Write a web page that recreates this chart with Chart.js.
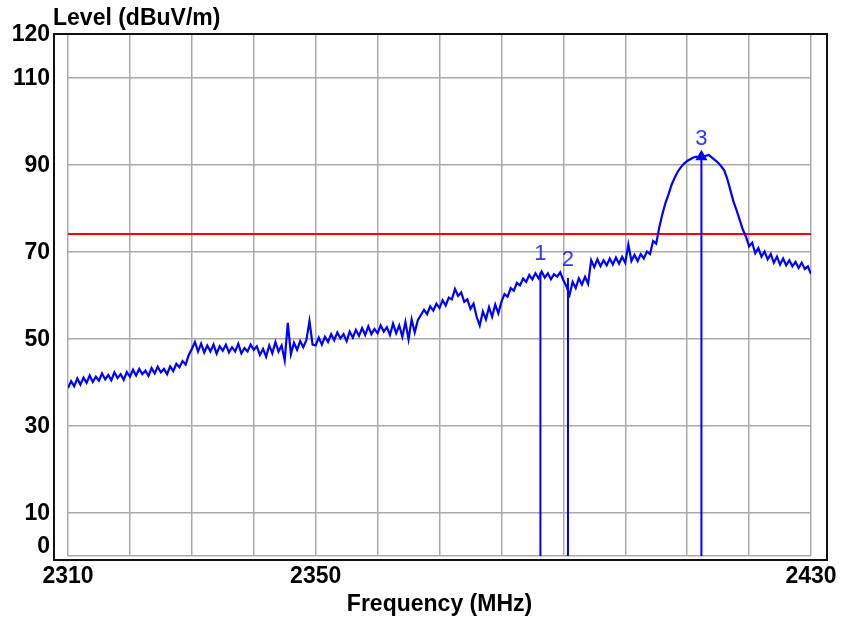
<!DOCTYPE html>
<html>
<head>
<meta charset="utf-8">
<script src="https://cdn.jsdelivr.net/npm/chart.js@4.4.1/dist/chart.umd.min.js"></script>
<style>
  html, body { margin: 0; padding: 0; background: #fff; }
  #wrap { width: 845px; height: 622px; position: relative; }
</style>
</head>
<body>
<div id="wrap"><canvas id="myChart"></canvas></div>
<script>
// sweep: 2310..2430 MHz, one reading every 0.5 MHz (levels)
const freqStart = 2310;
const freqStep = 0.5;
const levels = [
  // 2310
  38.6, 40.2, 39.0, 40.8, 39.4, 41.0, 39.8, 41.5, 40.0, 41.2, 40.3, 42.0, 40.6, 41.6, 40.4, 42.2, 40.9, 41.8, 40.5, 42.3,
  // 2320
  41.2, 42.8, 41.5, 43.0, 41.8, 42.6, 41.4, 43.2, 42.0, 43.5, 42.2, 43.0, 41.8, 43.6, 42.5, 44.2, 43.4, 44.8, 44.0, 46.2,
  // 2330
  47.6, 49.2, 47.0, 48.8, 46.8, 48.4, 47.0, 48.6, 46.5, 48.2, 47.2, 48.6, 46.8, 48.0, 47.0, 48.8, 46.6, 47.8, 47.0, 48.6,
  // 2340
  47.4, 48.2, 46.2, 47.6, 45.8, 48.4, 46.6, 49.2, 47.0, 48.4, 45.0, 53.6, 46.4, 49.0, 47.4, 49.4, 48.0, 49.6, 54.0, 48.6,
  // 2350
  48.4, 50.2, 48.6, 50.4, 49.2, 51.0, 49.6, 51.4, 50.0, 51.0, 49.4, 51.6, 50.2, 52.0, 50.6, 52.4, 50.8, 52.8, 51.0, 52.2,
  // 2360
  51.2, 53.0, 51.6, 52.6, 50.8, 53.4, 51.2, 53.0, 50.4, 53.8, 49.8, 54.4, 51.4, 54.2, 55.4, 56.6, 55.6, 57.4, 56.4, 58.0,
  // 2370
  57.0, 58.8, 57.6, 59.4, 59.0, 61.4, 59.8, 60.6, 58.4, 59.0, 56.8, 58.0, 55.0, 53.0, 56.2, 54.4, 57.2, 55.0, 57.8, 55.8,
  // 2380
  58.4, 60.2, 59.6, 61.6, 61.0, 62.8, 62.2, 63.8, 63.0, 64.6, 63.6, 65.0, 63.8, 65.4, 64.0, 65.0, 63.6, 64.8, 64.2, 65.2,
  // 2390
  63.4, 62.0, 60.0, 63.0, 61.6, 63.8, 62.4, 64.2, 62.6, 68.0, 66.4, 68.2, 66.6, 68.0, 66.8, 68.4, 67.0, 68.6, 67.2, 68.8,
  // 2400
  67.4, 71.6, 67.8, 69.2, 67.8, 69.4, 68.4, 70.0, 69.4, 72.4, 71.8, 75.6, 78.6, 81.2, 83.2, 85.4, 87.0, 88.4, 89.4, 90.2,
  // 2410
  90.8, 91.2, 91.6, 91.8, 91.6, 91.8, 92.0, 92.2, 91.6, 91.0, 90.4, 89.6, 88.6, 86.6, 84.0, 81.4, 79.4, 77.2, 75.0, 73.4,
  // 2420
  71.2, 72.0, 69.6, 70.8, 68.8, 70.0, 68.2, 69.4, 67.4, 68.8, 67.0, 68.4, 66.8, 68.0, 66.6, 67.6, 66.2, 67.4, 66.0, 66.6,
  // 2430
  64.8
];

const limitLevel = 74;

const markerLabels = ['1', '2', '3'];
const markerFreqs = [2386.3, 2390.75, 2412.3];
const markerLevels = [65.2, 63.9, 91.8];

const xGridValues = [2310, 2320, 2330, 2340, 2350, 2360, 2370, 2380, 2390, 2400, 2410, 2420, 2430];
const xLabelValues = [2310, 2350, 2430];
const yTickValues = [0, 10, 30, 50, 70, 90, 110, 120];

const xTitle = 'Frequency (MHz)';
const yTitle = 'Level (dBuV/m)';

const fontFamily = '"Liberation Sans", Arial, sans-serif';

const trace = levels.map((v, i) => ({ x: freqStart + i * freqStep, y: v }));

const markerSets = markerFreqs.map((f, i) => ({
  data: [{ x: f, y: 0 }, { x: f, y: markerLevels[i] }],
  borderColor: '#0000ff',
  backgroundColor: '#0000ff',
  borderWidth: 2,
  pointStyle: 'triangle',
  pointRadius: i === 2 ? [0, 5] : 0
}));

// frame, y title, y tick labels and marker numbers
const framePlugin = {
  id: 'frame',
  afterDatasetsDraw(chart) {
    const { ctx, scales } = chart;
    ctx.save();
    ctx.fillStyle = 'rgb(50,50,255)';
    ctx.font = '22px ' + fontFamily;
    ctx.textAlign = 'center';
    ctx.textBaseline = 'middle';
    markerFreqs.forEach((f, i) => {
      const px = scales.x.getPixelForValue(f);
      const py = scales.y.getPixelForValue(markerLevels[i]) - 18;
      ctx.fillText(markerLabels[i], px, py);
    });
    ctx.restore();
  },
  afterDraw(chart) {
    const { ctx, chartArea: a, scales } = chart;
    ctx.save();
    ctx.strokeStyle = '#111';
    ctx.lineWidth = 2;
    ctx.strokeRect(a.left - 14, a.top, a.right - a.left + 30, a.bottom - a.top + 4);

    ctx.fillStyle = '#000';
    ctx.font = 'bold 23px ' + fontFamily;
    ctx.textAlign = 'left';
    ctx.textBaseline = 'alphabetic';
    ctx.fillText(yTitle, a.left - 15, 25);

    ctx.textAlign = 'right';
    ctx.textBaseline = 'middle';
    yTickValues.forEach(v => {
      let py = scales.y.getPixelForValue(v) + 1;
      py = Math.max(a.top - 3, Math.min(py, a.bottom - 9));
      ctx.fillText(String(v), a.left - 18, py);
    });
    ctx.restore();
  }
};

const ctx = document.getElementById('myChart').getContext('2d');
const myChart = new Chart(ctx, {
  type: 'line',
  data: {
    datasets: [
      { data: trace, borderColor: '#0000ff', borderWidth: 2.2, pointRadius: 0, tension: 0 },
      ...markerSets,
      { data: [{ x: 2310, y: limitLevel }, { x: 2430, y: limitLevel }], borderColor: '#ff0000', borderWidth: 2, pointRadius: 0 }
    ]
  },
  options: {
    responsive: true,
    maintainAspectRatio: false,
    animation: false,
    layout: { padding: { left: 0, right: 34, top: 34, bottom: 0 } },
    plugins: {
      legend: { display: false },
      tooltip: { enabled: false }
    },
    scales: {
      x: {
        type: 'linear',
        min: 2310,
        max: 2430,
        afterBuildTicks: s => { s.ticks = xGridValues.map(v => ({ value: v })); },
        afterFit: s => { s.height = 66; },
        grid: { color: '#aaaaaa', lineWidth: 1.5, drawTicks: false },
        border: { display: false },
        ticks: {
          autoSkip: false,
          maxRotation: 0,
          padding: 7,
          color: '#000',
          font: { family: fontFamily, size: 23, weight: 'bold' },
          callback: v => xLabelValues.includes(v) ? String(v) : ''
        },
        title: {
          display: true,
          text: xTitle,
          color: '#000',
          font: { family: fontFamily, size: 23, weight: 'bold' },
          padding: { top: 0, bottom: 4 }
        }
      },
      y: {
        type: 'linear',
        min: 0,
        max: 120,
        afterBuildTicks: s => { s.ticks = yTickValues.map(v => ({ value: v })); },
        afterFit: s => { s.width = 68; },
        grid: { color: '#aaaaaa', lineWidth: 1.5, drawTicks: false },
        border: { display: false },
        ticks: { display: false }
      }
    }
  },
  plugins: [framePlugin]
});
</script>
</body>
</html>
